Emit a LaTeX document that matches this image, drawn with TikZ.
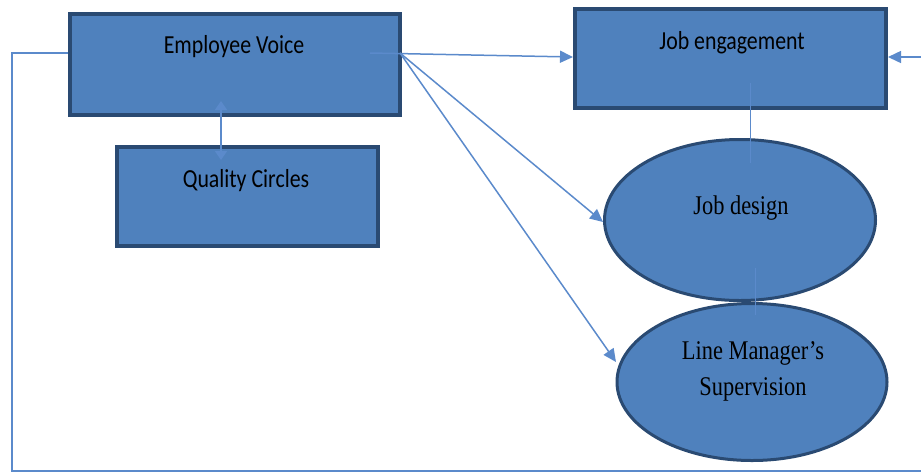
\documentclass[tikz,border=0pt]{standalone}
\usepackage{fontspec}
\usetikzlibrary{arrows.meta}
\newfontfamily\calibfont[FakeStretch=0.84]{Carlito}
\newfontfamily\tmsfont[FakeStretch=0.83]{Liberation Serif}
\definecolor{boxfill}{HTML}{4F81BD}
\definecolor{boxedge}{HTML}{2A4A72}
\definecolor{linkcol}{HTML}{5B8ACB}
\tikzset{
  box/.style={rectangle, draw=boxedge, fill=boxfill, line width=4pt, inner sep=0pt},
  oval/.style={ellipse, draw=boxedge, fill=boxfill, line width=3pt, inner sep=0pt},
  rlabel/.style={font=\calibfont\fontsize{26}{30}\selectfont, text=black, inner sep=0pt},
  elabel/.style={font=\tmsfont\fontsize{27}{36}\selectfont, text=black, inner sep=0pt, align=center},
  link/.style={draw=linkcol, line width=1.5pt},
  thin link/.style={draw=linkcol, line width=1pt},
  tip/.style={-{Triangle[length=13pt,width=12pt]}},
}
\usetikzlibrary{shapes.geometric}
\begin{document}
\begin{tikzpicture}[x=1pt,y=-1pt]
\useasboundingbox (0,0) rectangle (921,475);
% boxes
\node[box, minimum width=330pt, minimum height=101pt] (ev) at (235,64.5) {};
\node[box, minimum width=261pt, minimum height=99pt] (qc) at (247.5,196.5) {};
\node[box, minimum width=311pt, minimum height=99pt] (je) at (730.5,58.5) {};
\coordinate (jein) at (750,83);
\coordinate (jdtop) at (750,163);
\node[oval, minimum width=271pt, minimum height=161pt] (jd) at (740,220) {};
\node[oval, minimum width=270pt, minimum height=157pt] (lm) at (752,382) {};
\draw[thin link] (jein) -- (jdtop);
\coordinate (jdin) at (755,268);
\coordinate (lmin) at (755,315);
\draw[thin link] (jdin) -- (lmin);
% labels
\node[rlabel] (evt) at (234,47) {Employee Voice};
\node[rlabel] (qct) at (246,181) {Quality Circles};
\node[rlabel] (jet) at (732,43) {Job engagement};
\node[elabel] (jdt) at (741,208) {Job design};
\node[elabel] (lmt) at (753,371) {Line Manager’s\\Supervision};
% arrows from Employee Voice
\coordinate (evstart) at (370,53);
\coordinate (evfan) at (400,53);
\draw[link, tip] (evstart) -- (je.west |- 0,57);
\draw[link, tip] (evfan) -- (603,222) coordinate (jdtip);
\draw[link, tip] (evfan) -- (616,362) coordinate (lmtip);
% Employee voice <-> Quality circles
\coordinate (evqa) at (221,101);
\coordinate (evqb) at (221,160);
\draw[link, {Triangle[length=9pt,width=12pt]}-{Triangle[length=9pt,width=12pt]}] (evqa) -- (evqb);
% feedback loop
\coordinate (fl1) at (12,53);
\coordinate (fl2) at (12,471);
\coordinate (fl3) at (926,471);
\coordinate (fl4) at (926,57);
\draw[link] (ev.west |- fl1) -- (fl1) -- (fl2) -- (fl3) -- (fl4);
\draw[link, tip] (fl4) -- (je.east |- fl4);
\end{tikzpicture}
\end{document}
